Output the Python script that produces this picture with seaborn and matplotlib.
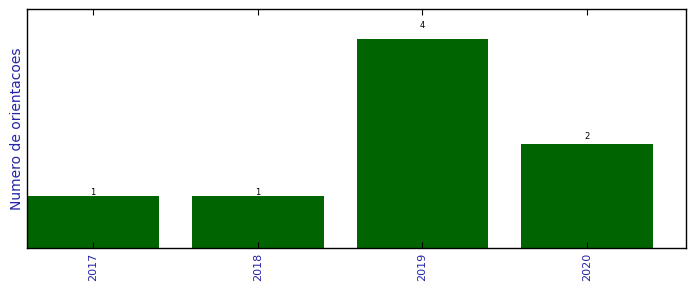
import matplotlib
matplotlib.use("Agg")
import matplotlib.pyplot as plt
import seaborn as sns
import pandas as pd

years = ["2017", "2018", "2019", "2020"]
counts = [1, 1, 4, 2]

df = pd.DataFrame({"ano": years, "n": counts})

fig = plt.figure(figsize=(6.96, 2.92), dpi=100)
ax = fig.add_axes([27/696, 1 - 248/292, (686-27)/696, (248-9)/292])
sns.barplot(data=df, x="ano", y="n", color="#006400", saturation=1, width=0.8,
            edgecolor="none", ax=ax)
ax.set_xlim(-0.4, 3.6)
ax.set_ylim(0, max(counts) * 1.145)
for i, v in enumerate(counts):
    ax.text(i, v * 1.065, str(v), ha="center", va="center", fontsize=6)
ax.set_yticks([])
ax.set_xlabel("")
ax.set_ylabel("Numero de orientacoes", color="#2424a8", fontsize=10, labelpad=2)
ax.tick_params(axis="x", labelrotation=90, labelcolor="#2424a8", labelsize=8,
               direction="in", top=True, length=4, color="black")
for s in ax.spines.values():
    s.set_color("black")
    s.set_linewidth(1)
fig.savefig("out.png", dpi=100)
